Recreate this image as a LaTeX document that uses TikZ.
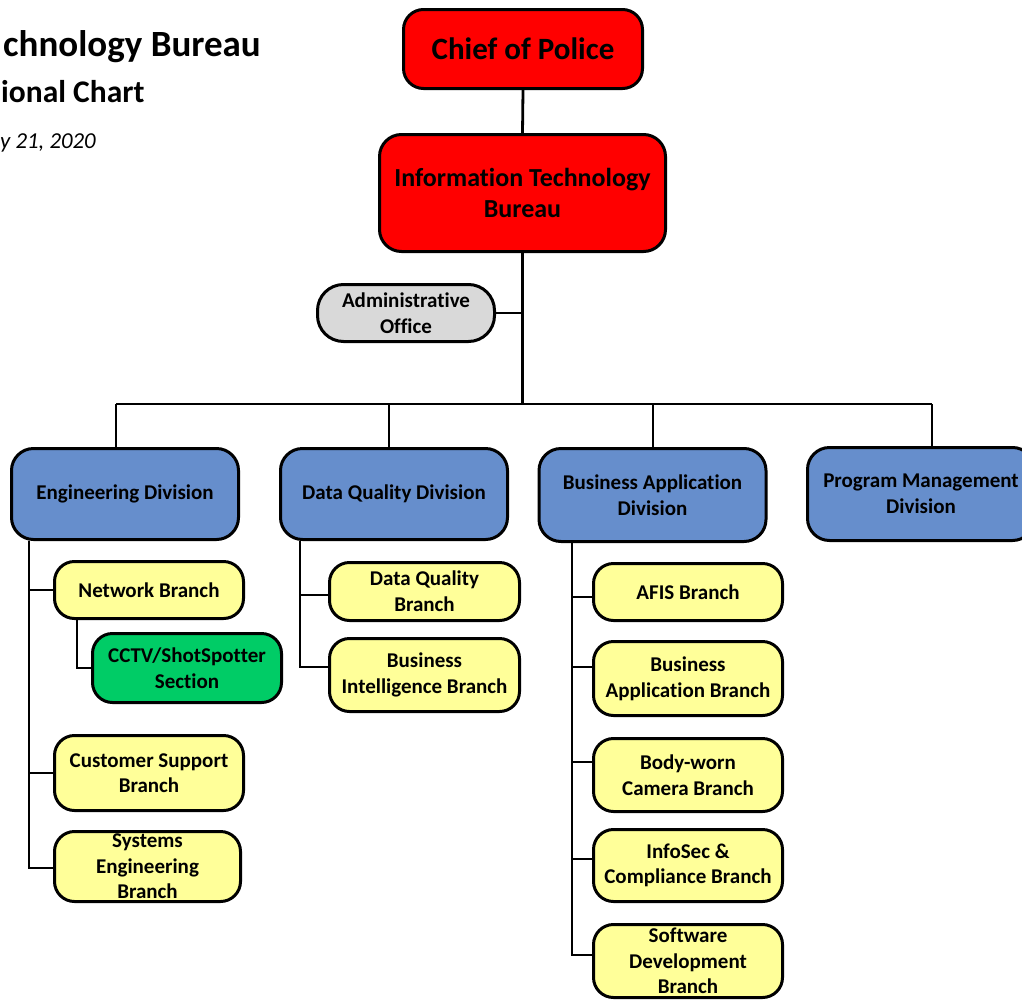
\documentclass[tikz,border=0pt]{standalone}
\usepackage{fontspec}
\setmainfont{Carlito}[Ligatures={NoCommon}]
\definecolor{chiefred}{RGB}{255,0,0}
\definecolor{divblue}{RGB}{102,142,204}
\definecolor{branchyellow}{RGB}{255,255,153}
\definecolor{sectgreen}{RGB}{0,204,102}
\definecolor{officegray}{RGB}{217,217,217}
\tikzset{
  unit/.style={draw=black, line width=3pt, rounded corners=20pt, align=center,
    inner sep=0pt, font=\bfseries\fontsize{21}{25.6}\selectfont},
  topbox/.style={unit, fill=chiefred},
  divbox/.style={unit, fill=divblue, minimum width=227pt, minimum height=91pt, rounded corners=22pt},
  branchbox/.style={unit, fill=branchyellow, minimum width=189pt},
  sectbox/.style={unit, fill=sectgreen, minimum width=189pt},
  conn/.style={draw=black, line width=2.8pt},
  headline/.style={anchor=base west, inner sep=0pt, font=\bfseries}
}
\begin{document}
\begin{tikzpicture}[x=1pt, y=-1pt]
\useasboundingbox (0,0) rectangle (1022,1001);
\clip (0,0) rectangle (1022,1001);

% heading
\node[headline, font=\bfseries\fontsize{37}{42}\selectfont] (t1) at (3,56) {chnology Bureau};
\node[headline, font=\bfseries\fontsize{31.5}{36}\selectfont] (t2) at (1,102) {ional Chart};
\node[headline, font=\itshape\fontsize{22.8}{26}\selectfont] (t3) at (0,148) {y 21, 2020};

% command level
\node[topbox, minimum width=239pt, minimum height=79pt, font=\bfseries\fontsize{31}{36}\selectfont]
  (chief) at (523,49) {Chief of Police};
\node[topbox, minimum width=286pt, minimum height=117pt, rounded corners=22pt,
  font=\bfseries\fontsize{26}{31.5}\selectfont]
  (itb) at (522.5,193) {Information Technology\\Bureau};
\node[unit, fill=officegray, minimum width=177pt, minimum height=57pt, rounded corners=26pt]
  (admin) at (406,313) {Administrative\\Office};

% divisions
\node[divbox] (eng) at (125,494) {Engineering Division};
\node[divbox] (dqd) at (394,494) {Data Quality Division};
\node[divbox, minimum height=93pt] (bad) at (652.5,495) {Business Application\\Division};
\node[divbox, minimum height=93pt] (pmd) at (921,494) {Program Management\\Division};

% engineering branches
\node[branchbox, minimum height=57pt] (net) at (149,590) {Network Branch};
\node[sectbox, minimum height=69pt] (cctv) at (187,668) {CCTV/ShotSpotter\\Section};
\node[branchbox, minimum height=75pt] (cust) at (149,773) {Customer Support\\Branch};
\node[branchbox, minimum width=186pt, minimum height=70pt] (syse) at (147.5,866.5) {Systems\\Engineering\\Branch};

% data quality branches
\node[branchbox, minimum width=190pt, minimum height=58pt] (dqb) at (424.5,591.5) {Data Quality\\Branch};
\node[branchbox, minimum width=190pt, minimum height=73pt] (bib) at (424.5,675) {Business\\Intelligence Branch};

% business application branches
\node[branchbox, minimum height=57pt] (afis) at (688,592) {AFIS Branch};
\node[branchbox, minimum height=74pt] (bab) at (688,678.5) {Business\\Application Branch};
\node[branchbox, minimum height=73pt] (bwc) at (688,775) {Body-worn\\Camera Branch};
\node[branchbox, minimum height=72pt] (info) at (688,865.5) {InfoSec \&\\Compliance Branch};
\node[branchbox, minimum height=73pt] (soft) at (688,961) {Software\\Development\\Branch};

% top spine
\coordinate (bl) at (116,404);
\coordinate (bq) at (389,404);
\coordinate (bb) at (653,404);
\coordinate (br) at (932,404);
\draw[conn] (chief.south) -- (itb.north);
\draw[conn] (itb.south) -- (itb.south |- bl);
\draw[conn] (admin.east) -- (admin.east -| itb.south);
\draw[conn] (bl) -- (br);
\draw[conn] (bl) -- (bl |- eng.north);
\draw[conn] (bq) -- (bq |- dqd.north);
\draw[conn] (bb) -- (bb |- bad.north);
\draw[conn] (br) -- (br |- pmd.north);

% engineering spine
\coordinate (es) at (29,494);
\draw[conn] (eng.south -| es) |- ([yshift=-1.5pt]syse.west);
\draw[conn] (net.west) -- (net.west -| es);
\draw[conn] (cust.west) -- (cust.west -| es);
\coordinate (ns) at (77,590);
\draw[conn] (net.south -| ns) |- (cctv.west);

% data quality spine
\coordinate (ds) at (300,494);
\draw[conn] (dqd.south -| ds) |- ([yshift=8pt]bib.west);
\draw[conn] ([yshift=-3.5pt]dqb.west) -- ([yshift=-3.5pt]dqb.west -| ds);

% business application spine
\coordinate (as) at (572,494);
\draw[conn] (bad.south -| as) |- ([yshift=6pt]soft.west);
\draw[conn] ([yshift=-5pt]afis.west) -- ([yshift=-5pt]afis.west -| as);
\draw[conn] ([yshift=11.5pt]bab.west) -- ([yshift=11.5pt]bab.west -| as);
\draw[conn] ([yshift=13pt]bwc.west) -- ([yshift=13pt]bwc.west -| as);
\draw[conn] ([yshift=6.5pt]info.west) -- ([yshift=6.5pt]info.west -| as);
\end{tikzpicture}
\end{document}
